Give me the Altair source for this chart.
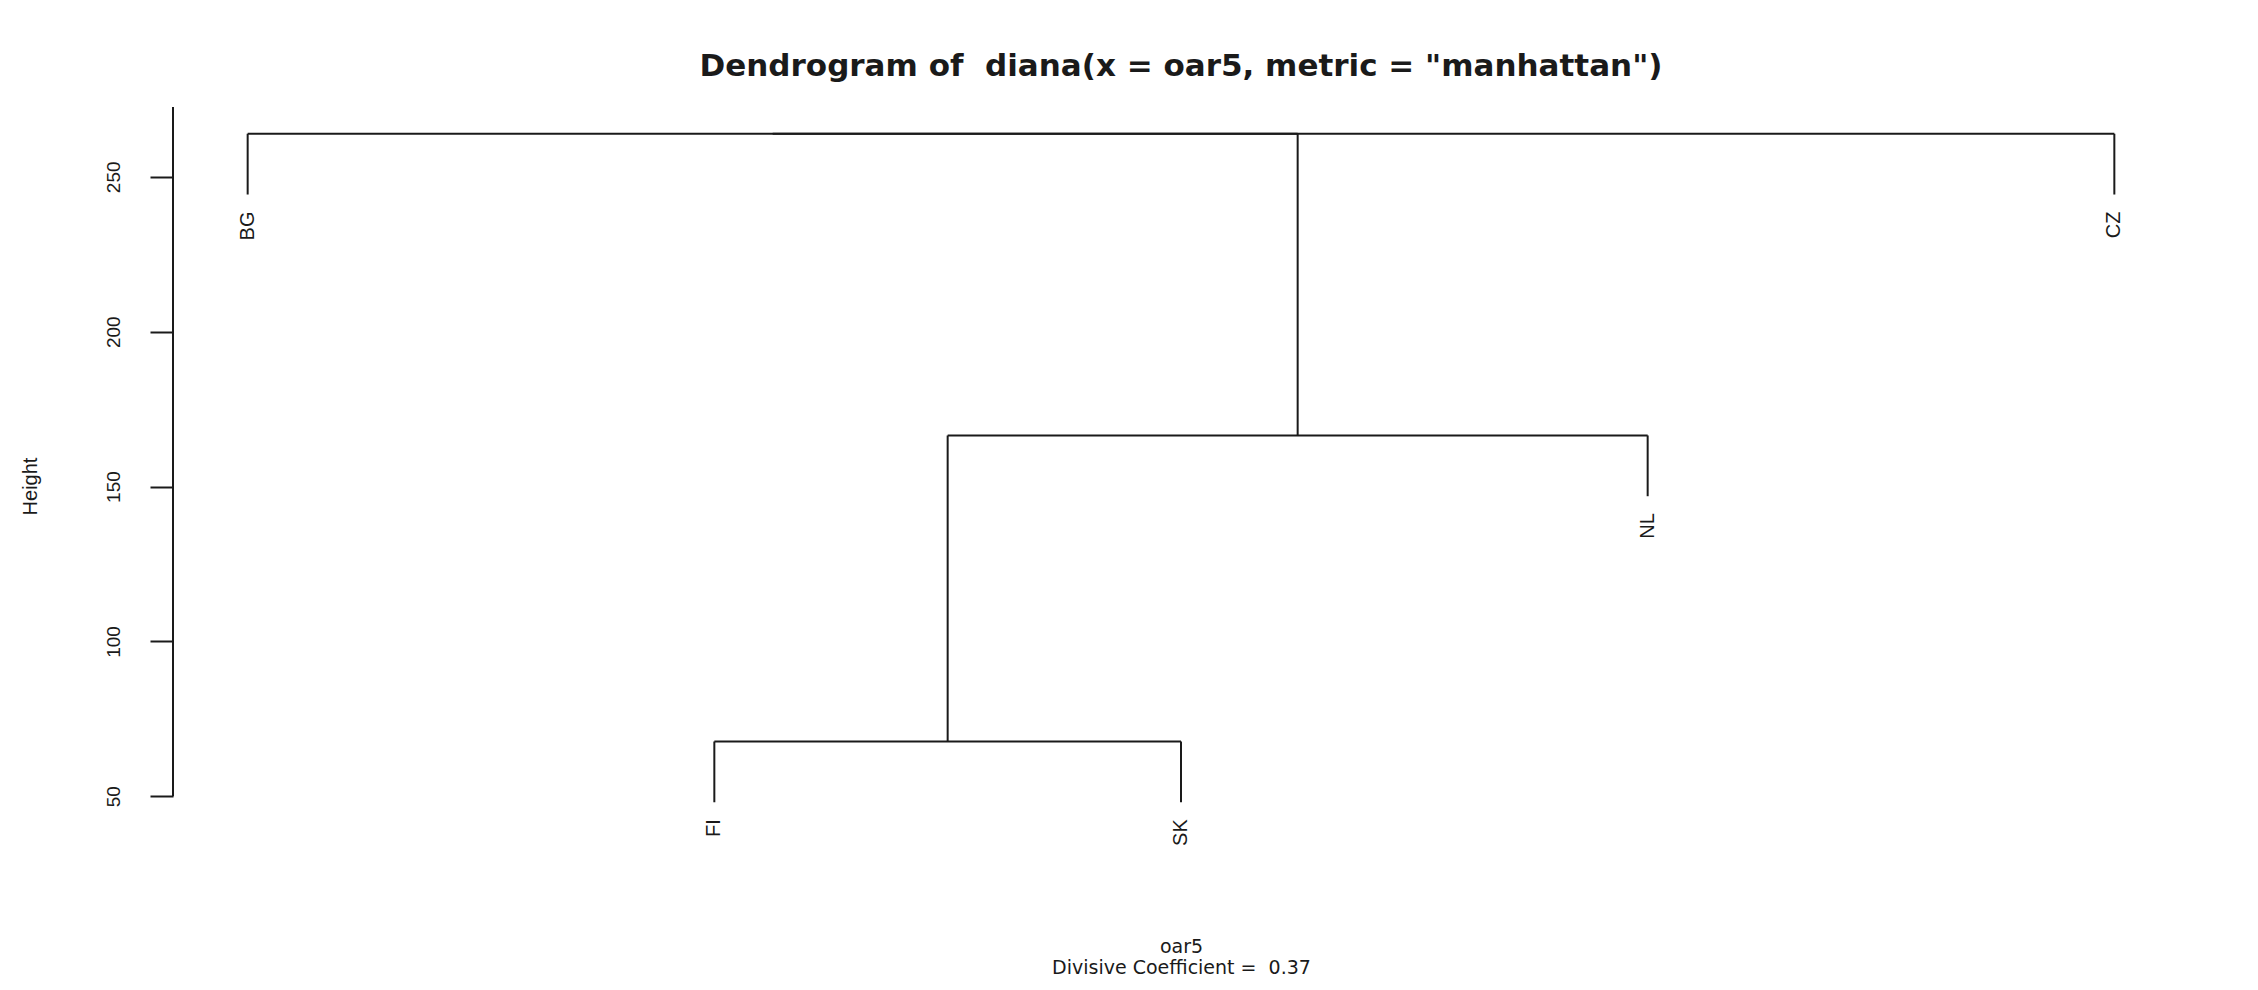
import altair as alt
import pandas as pd

# ---- data ----
leaf_labels = ["BG", "FI", "SK", "NL", "CZ"]          # left-to-right leaf order
merge_left = [-2, 1, -1, 3]                            # R-style merge matrix (neg = leaf)
merge_right = [-3, -4, 2, -5]
merge_heights = [67.7, 166.5, 263.9, 263.9]
y_ticks = [50, 100, 150, 200, 250]
hang_frac = 0.1

title_text = 'Dendrogram of\u00a0 diana(x = oar5, metric = "manhattan")'
xlab_lines = ["oar5", "Divisive Coefficient =\u00a0 0.37"]
ink = "#1a1a1a"

# ---- build dendrogram segments from the merge structure ----
n = len(leaf_labels)
hmax, hmin = max(merge_heights), min(merge_heights)
hang = hang_frac * (hmax - hmin)
clusters = {}
segments = []
leaves = []
for i, (a, b, h) in enumerate(zip(merge_left, merge_right, merge_heights), start=1):
    ends = []
    for c in (a, b):
        if c < 0:
            xpos = -c
            y0 = h - hang
            leaves.append({"label": leaf_labels[-c - 1], "x": xpos, "y": y0})
        else:
            xpos, y0 = clusters[c]
        segments.append({"x": xpos, "x2": xpos, "y": y0, "y2": h})
        ends.append(xpos)
    segments.append({"x": ends[0], "x2": ends[1], "y": h, "y2": h})
    clusters[i] = ((ends[0] + ends[1]) / 2, h)

seg_df = pd.DataFrame(segments)
leaf_df = pd.DataFrame(leaves)

# R-like 4% axis expansion
x_lo, x_hi = 1 - 0.04 * (n - 1), n + 0.04 * (n - 1)
y_base = hmin - hang
y_ext = 0.04 * (hmax - y_base)
y_lo, y_hi = y_base - y_ext, hmax + y_ext
axis_df = pd.DataFrame({"lo": [y_ticks[0]], "hi": [y_hi]})

W, H = 2016, 722
x_scale = alt.Scale(domain=[x_lo, x_hi], nice=False, zero=False)
y_scale = alt.Scale(domain=[y_lo, y_hi], nice=False, zero=False)

x_axis = alt.Axis(
    title=xlab_lines, domain=False, ticks=False, labels=False, grid=False,
    titleFont="DejaVu Sans", titleFontSize=19, titleFontWeight="normal",
    titleColor=ink, titleBaseline="alphabetic", titleLineHeight=21,
    titleY=123, titleAlign="center",
)
y_axis = alt.Axis(
    title="Height", values=y_ticks, domain=False, grid=False,
    tickSize=23, tickWidth=2, tickColor=ink,
    labelAngle=270, labelAlign="center", labelBaseline="middle",
    labelPadding=37, labelFont="Liberation Sans", labelFontSize=19, labelColor=ink,
    titleAngle=270, titleFont="Liberation Sans", titleFontSize=20,
    titleFontWeight="normal", titleColor=ink, titleX=-143, titleY=379,
    titleAlign="center", titleBaseline="middle",
)

segs = alt.Chart(seg_df).mark_rule(color=ink, strokeWidth=2).encode(
    x=alt.X("x:Q", scale=x_scale, axis=x_axis),
    x2="x2:Q",
    y=alt.Y("y:Q", scale=y_scale, axis=y_axis),
    y2="y2:Q",
)

axis_line = alt.Chart(axis_df).mark_rule(color=ink, strokeWidth=2).encode(
    x=alt.value(0),
    y=alt.Y("lo:Q", scale=y_scale, axis=y_axis),
    y2="hi:Q",
)

labels = alt.Chart(leaf_df).mark_text(
    angle=270, align="right", baseline="middle", yOffset=17,
    font="Liberation Sans", fontSize=20, color=ink,
).encode(
    x=alt.X("x:Q", scale=x_scale, axis=x_axis),
    y=alt.Y("y:Q", scale=y_scale, axis=y_axis),
    text="label:N",
)

chart = alt.layer(segs, axis_line, labels).properties(
    width=W,
    height=H,
    padding={"left": 165, "top": 99, "right": 50, "bottom": 160},
    autosize=alt.AutoSizeParams(type="none"),
    background="white",
    title=alt.TitleParams(
        text=title_text, font="DejaVu Sans", fontSize=31, fontWeight="bold",
        color=ink, anchor="middle", frame="group", baseline="alphabetic",
        offset=0, dy=1,
    ),
).configure_view(stroke=None)

chart.save("out.html", embed_options={"renderer": "svg", "actions": False})
